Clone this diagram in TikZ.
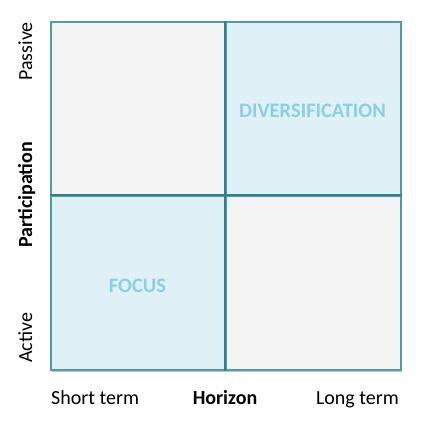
\documentclass[tikz,border=0pt]{standalone}
\usepackage{fontspec}
\setmainfont{Carlito}
\usetikzlibrary{shadows}
\definecolor{edgeteal}{HTML}{4E9CA8}
\definecolor{midteal}{HTML}{2F8190}
\definecolor{greyfill}{HTML}{F3F3F3}
\definecolor{bluefill}{HTML}{DFF0F7}
\definecolor{celltext}{HTML}{8BCFE0}
\begin{document}
\begin{tikzpicture}[x=1pt,y=-1pt,
  cell/.style={draw=edgeteal, line width=1.5pt, inner sep=0pt, anchor=north west,
    minimum width=175pt, minimum height=174pt,
    drop shadow={shadow xshift=1.2pt, shadow yshift=-2pt, fill=black!45, opacity=0.5}},
  greycell/.style={cell, fill=greyfill},
  bluecell/.style={cell, fill=bluefill},
  midline/.style={draw=midteal, line width=2.8pt},
  celllabel/.style={font=\fontsize{20.5}{24}\selectfont\bfseries, text=celltext, inner sep=0pt},
  axislabel/.style={font=\fontsize{20}{24}\selectfont, inner sep=0pt},
  axistitle/.style={axislabel, font=\fontsize{20}{24}\selectfont\bfseries}]
\useasboundingbox (0,0) rectangle (424,424);
\node[greycell] (tl) at (50,21) {};
\node[bluecell] (tr) at (225,21) {};
\node[bluecell] (bl) at (50,195) {};
\node[greycell] (br) at (225,195) {};
\draw[midline] (tr.north west) -- (br.south west);
\draw[midline] (bl.north west) -- (br.north east);
\node[celllabel] (div) at (312.5,111) {DIVERSIFICATION};
\node[celllabel] (focus) at (137.5,286) {FOCUS};
\node[axislabel, anchor=base west] (short) at (51,404) {Short term};
\node[axistitle, anchor=base] (hor) at (225,404) {Horizon};
\node[axislabel, anchor=base east] (long) at (399,404) {Long term};
\node[axislabel, rotate=90, anchor=base east] (passive) at (32,22) {Passive};
\node[axistitle, rotate=90, anchor=base] (part) at (32,195) {Participation};
\node[axislabel, rotate=90, anchor=base west] (active) at (32,363) {Active};
\end{tikzpicture}
\end{document}
